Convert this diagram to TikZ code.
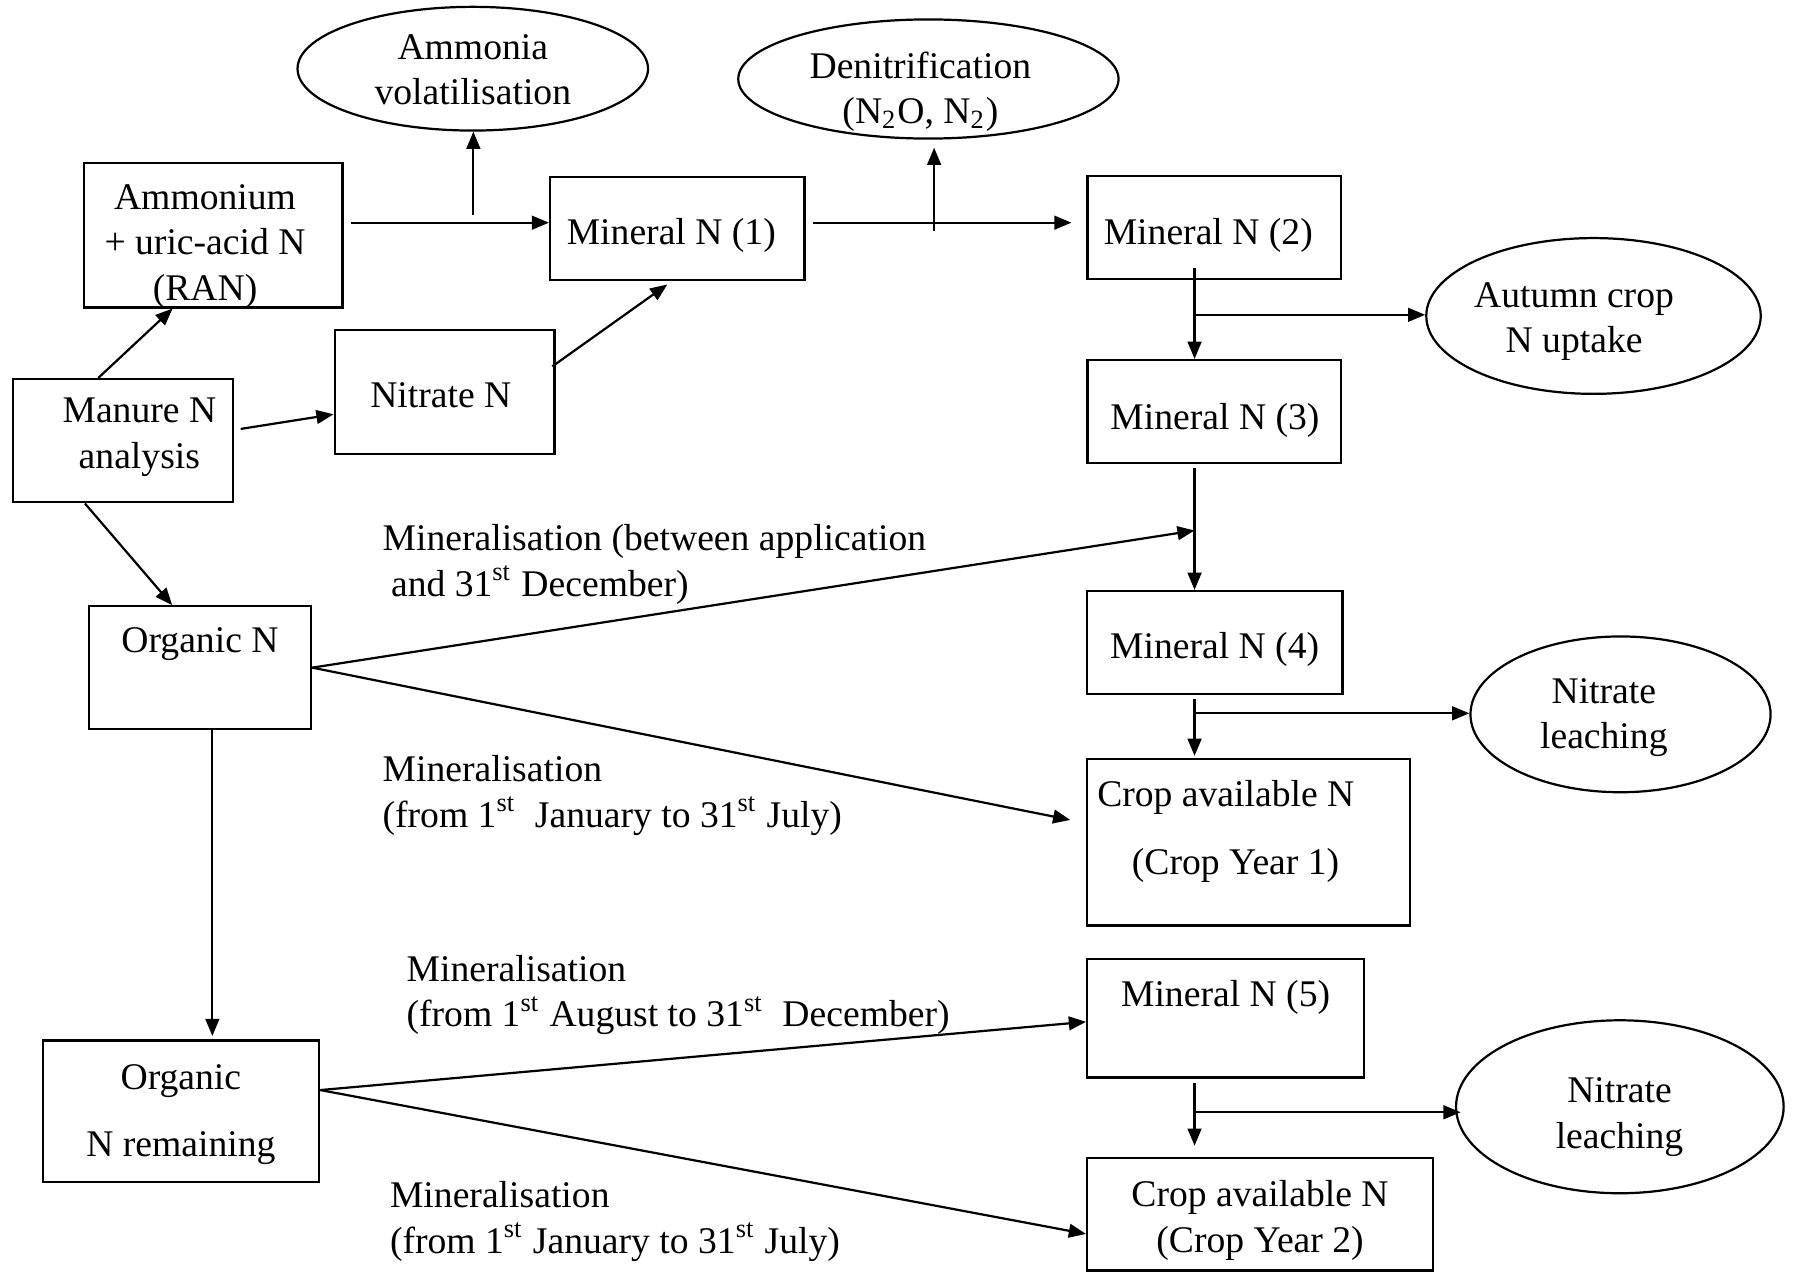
\documentclass[tikz,border=0pt]{standalone}
\usepackage{fontspec}
\setmainfont{Liberation Serif}
\usetikzlibrary{shapes.geometric,arrows.meta}
\newcommand\myfs{\fontsize{9.35}{11.3}\selectfont}
\begin{document}
\begin{tikzpicture}[x=0.01cm,y=-0.01cm,
  box/.style={draw,rectangle,line width=0.55pt,inner sep=0},
  oval/.style={draw,ellipse,line width=0.55pt,inner sep=0},
  txt/.style={align=center,inner sep=0,font=\myfs},
  lab/.style={align=left,inner sep=0,anchor=west,font=\myfs},
  arr/.style={-{Triangle[length=0.15cm,width=0.12cm]},line width=0.55pt}]
\useasboundingbox (0,0) rectangle (1568,1111);
% boxes
\node[box,minimum width=2.261cm,minimum height=1.258cm] (ran) at (186.15,205.6) {};
\node[box,minimum width=2.221cm,minimum height=0.903cm] (m1) at (591.65,199.45) {};
\node[box,minimum width=2.214cm,minimum height=0.903cm] (m2) at (1060.7,198.85) {};
\node[box,minimum width=1.919cm,minimum height=1.083cm] (nit) at (388.35,342.45) {};
\node[box,minimum width=1.919cm,minimum height=1.077cm] (man) at (107.35,384.95) {};
\node[box,minimum width=2.214cm,minimum height=0.902cm] (m3) at (1060.7,359.6) {};
\node[box,minimum width=2.229cm,minimum height=0.900cm] (m4) at (1061.15,561.3) {};
\node[box,minimum width=1.941cm,minimum height=1.072cm] (orgn) at (174.75,583.2) {};
\node[box,minimum width=2.822cm,minimum height=1.451cm] (crop1) at (1090.8,735.85) {};
\node[box,minimum width=2.418cm,minimum height=1.037cm] (m5) at (1070.6,889.35) {};
\node[box,minimum width=2.412cm,minimum height=1.236cm] (orgr) at (158.2,970.8) {};
\node[box,minimum width=3.021cm,minimum height=0.979cm] (crop2) at (1100.75,1060.75) {};
% ellipses
\node[oval,minimum width=3.06cm,minimum height=1.08cm] (amm) at (413,60) {};
\node[oval,minimum width=3.32cm,minimum height=1.04cm] (den) at (811,69) {};
\node[oval,minimum width=2.92cm,minimum height=1.36cm] (aut) at (1392,276) {};
\node[oval,minimum width=2.62cm,minimum height=1.36cm] (nl1) at (1415.6,624) {};
\node[oval,minimum width=2.86cm,minimum height=1.51cm] (nl2) at (1415,966.8) {};
% texts
\node[txt] (ranT) at (179.1,215) {Ammonium\\+ uric-acid N\\(RAN)};
\node[txt] (m1T) at (586.4,206) {Mineral N (1)};
\node[txt] (m2T) at (1055.5,206) {Mineral N (2)};
\node[txt] (nitT) at (385.1,345) {Nitrate N};
\node[txt] (manT) at (121.75,382) {Manure N\\analysis};
\node[txt] (m3T) at (1061.3,367) {Mineral N (3)};
\node[txt] (m4T) at (1061,567) {Mineral N (4)};
\node[txt] (orgnT) at (174.7,563) {Organic N};
\node[txt] (c1aT) at (1070.8,697) {Crop available N};
\node[txt] (c1bT) at (1079.3,756) {(Crop Year 1)};
\node[txt] (m5T) at (1070.6,871) {Mineral N (5)};
\node[txt] (orgr1T) at (158,944) {Organic};
\node[txt] (orgr2T) at (158,1003) {N remaining};
\node[txt] (c2T) at (1100.7,1066) {Crop available N\\(Crop Year 2)};
\node[txt] (ammT) at (413,61) {Ammonia\\volatilisation};
\node[txt] (denT) at (804,80) {Denitrification\\(N\textsubscript{2}O, N\textsubscript{2})};
\node[txt] (autT) at (1375,281) {Autumn crop\\N uptake};
\node[txt] (nl1T) at (1401,627) {Nitrate\\leaching};
\node[txt] (nl2T) at (1414.7,976) {Nitrate\\leaching};
% labels
\node[lab] (l1) at (333.5,493) {Mineralisation (between application\\\hspace*{0.074cm}and 31\textsuperscript{st} December)};
\node[lab] (l2) at (333.5,695) {Mineralisation\\(from 1\textsuperscript{st}\ \ January to 31\textsuperscript{st} July)};
\node[lab] (l3) at (354.5,869) {Mineralisation\\(from 1\textsuperscript{st} August to 31\textsuperscript{st}\ \ December)};
\node[lab] (l4) at (340,1067) {Mineralisation\\(from 1\textsuperscript{st} January to 31\textsuperscript{st} July)};
% junctions
\coordinate (jA) at (413.5,194.5);
\coordinate (jD) at (816,194.5);
\coordinate (jM2) at (1043.5,275);
\coordinate (jUp) at (1043.5,463.4);
\coordinate (jM4) at (1043.5,623.1);
\coordinate (jM5) at (1043.5,971.6);
\coordinate (xO) at (185.5,770);
% connectors
\draw[arr,shorten <=0.06cm] (ran.east |- jA) -- (m1.west |- jA);
\draw[arr] ([yshift=0.07cm]jA) -- (amm.south -| jA);
\draw[arr,shorten <=0.063cm,shorten >=0.13cm] (m1.east |- jD) -- (m2.west |- jD);
\draw[arr,shorten >=0.07cm] ([yshift=-0.07cm]jD) -- (den.south -| jD);
\draw[arr] ([yshift=0.11cm]m2.south -| jM2) -- (m3.north -| jM2);
\draw[arr] (jM2) -- (aut.west |- jM2);
\draw[arr] ([yshift=-0.03cm]m3.south -| jUp) -- (m4.north -| jUp);
\draw[arr] (orgn.east) -- (jUp);
\draw[arr,shorten >=0.14cm] (orgn.east) -- (crop1.west |- 0,719);
\draw[arr,shorten >=0.02cm] ([yshift=-0.035cm]m4.south -| jM4) -- (crop1.north -| jM4);
\draw[arr] (jM4) -- (nl1.west |- jM4);
\draw[arr,shorten >=0.03cm] (orgn.south -| xO) -- (orgr.north -| xO);
\draw[arr] (orgr.east |- 0,952.2) -- (m5.west |- 0,892.6);
\draw[arr] (orgr.east |- 0,952.2) -- (crop2.west |- 0,1077.9);
\draw[arr,shorten >=0.1cm] ([yshift=-0.04cm]m5.south -| jM5) -- (crop2.north -| jM5);
\draw[arr,shorten >=-0.05cm] (jM5) -- (nl2.west |- jM5);
\draw[arr] (man.north -| 85.9,0) -- (ran.south -| 150.8,0);
\draw[arr,shorten <=0.06cm] (man.east |- 0,375.6) -- (nit.west |- 0,361.9);
\draw[arr,shorten <=-0.035cm,shorten >=0.05cm] (nit.east |- 0,318) -- (m1.south -| 587,0);
\draw[arr] (man.south -| 74.2,0) -- (orgn.north -| 150.4,0);
\end{tikzpicture}
\end{document}
